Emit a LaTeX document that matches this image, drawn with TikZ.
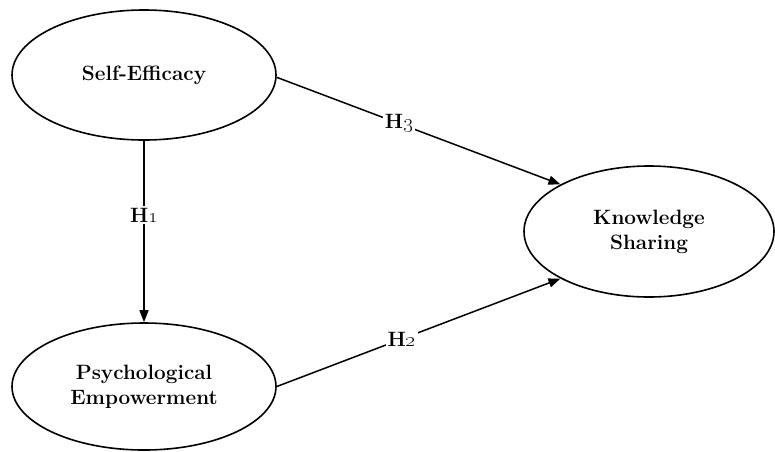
\documentclass[tikz,border=0pt]{standalone}
\usetikzlibrary{shapes.geometric, positioning, arrows.meta}

\tikzset{
    construct/.style={draw, ellipse, line width=1.6pt, align=center,
        font=\fontsize{20.74}{25}\selectfont\bfseries, inner sep=0pt},
    path/.style={line width=1.5pt, -{Triangle[length=12pt,width=9pt]}},
    hyp/.style={fill=white, inner sep=2pt, font=\fontsize{20.74}{22}\selectfont\bfseries}
}

\begin{document}
\begin{tikzpicture}[x=1pt, y=-1pt]
    \useasboundingbox (0,0) rectangle (775,451);
        %costrutti
        \node[construct, minimum width=264pt, minimum height=130pt] (selfeff) at (144,75) {Self-Efficacy};
        \node[construct, minimum width=264pt, minimum height=127pt] (psyemp) at (144,386.5) {Psychological\\Empowerment};
        \node[construct, minimum width=250pt, minimum height=131pt] (knowsh) at (649,231.5) {Knowledge\\Sharing};
        %ipotesi
        \draw[path] (selfeff.south) -- (psyemp.north) node[hyp, pos=0.41]{H\oldstylenums{1}};
        \draw[path] (psyemp.east) -- (knowsh.208) node[hyp, pos=0.44]{H\oldstylenums{2}};
        \draw[path] (selfeff.-1) -- (knowsh.152) node[hyp, pos=0.43]{H\oldstylenums{3}};
\end{tikzpicture}
\end{document}
